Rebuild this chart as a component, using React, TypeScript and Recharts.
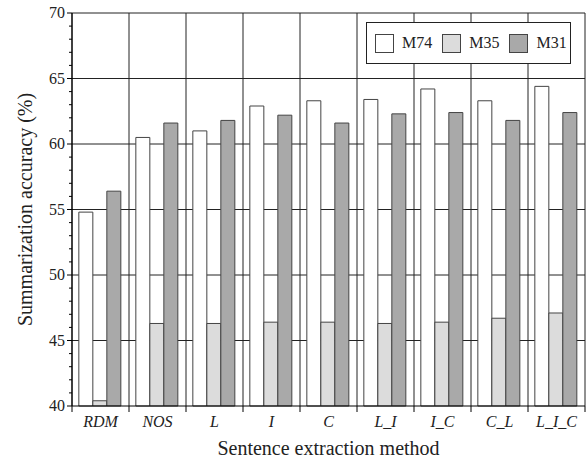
import { BarChart, Bar, XAxis, YAxis, CartesianGrid, Legend } from "recharts";

const categories = ["RDM", "NOS", "L", "I", "C", "L_I", "I_C", "C_L", "L_I_C"];
const m74 = [54.8, 60.5, 61.0, 62.9, 63.3, 63.4, 64.2, 63.3, 64.4];
const m35 = [40.4, 46.3, 46.3, 46.4, 46.4, 46.3, 46.4, 46.7, 47.1];
const m31 = [56.4, 61.6, 61.8, 62.2, 61.6, 62.3, 62.4, 61.8, 62.4];
const majorTicks = [40, 45, 50, 55, 60, 65, 70];
const seriesNames = ["M74", "M35", "M31"];

const COLORS = ["#ffffff", "#dcdcdc", "#a9a9a9"];
const FONT = "Liberation Serif, Tinos, Times New Roman, Times, DejaVu Serif, serif";
const W = 586;
const H = 466;
const MARGIN = { top: 13, right: 1, left: 22, bottom: 30 };
const Y_AXIS_W = 50;
const PLOT_W = W - MARGIN.left - MARGIN.right - Y_AXIS_W;
const BAND = PLOT_W / categories.length;

const yMin = majorTicks[0];
const yMax = majorTicks[majorTicks.length - 1];
const allTicks = Array.from({ length: yMax - yMin + 1 }, (_, i) => yMin + i);

const data = categories.map((name, i) => ({
  name,
  M74: m74[i],
  M35: m35[i],
  M31: m31[i],
}));

function YTick({ x, y, payload }: any) {
  const major = payload.value % 5 === 0;
  return (
    <g>
      <line x1={x - (major ? 5 : 3)} x2={x} y1={y} y2={y} stroke="#000" />
      {major && (
        <text x={x - 7} y={y} dy={5} textAnchor="end" style={{ fontFamily: FONT }} fontSize={16} fill="#222">
          {payload.value}
        </text>
      )}
    </g>
  );
}

function XTick({ x, y, payload, index }: any) {
  return (
    <g>
      <line x1={x - BAND / 2} x2={x - BAND / 2} y1={y} y2={y + 6} stroke="#000" />
      {index === categories.length - 1 && (
        <line x1={x + BAND / 2} x2={x + BAND / 2} y1={y} y2={y + 6} stroke="#000" />
      )}
      <text x={x} y={y} dy={21} textAnchor="middle" style={{ fontFamily: FONT, fontStyle: "italic" }} fontSize={16} fill="#222">
        {payload.value}
      </text>
    </g>
  );
}

function LegendBox() {
  return (
    <div
      style={{
        width: 205,
        height: 42,
        boxSizing: "border-box",
        border: "1px solid #222",
        background: "#fff",
        display: "flex",
        alignItems: "center",
        paddingLeft: 8,
        fontFamily: FONT,
        fontSize: 16,
        color: "#222",
      }}
    >
      {seriesNames.map((s, i) => (
        <div key={s} style={{ display: "flex", alignItems: "center", marginRight: 10 }}>
          <div
            style={{
              width: 19,
              height: 19,
              boxSizing: "border-box",
              border: "1px solid #444",
              background: COLORS[i],
              marginRight: 8,
            }}
          />
          <span>{s}</span>
        </div>
      ))}
    </div>
  );
}

export default function App() {
  return (
    <div style={{ position: "absolute", left: 0, top: 0, background: "#fff", fontFamily: FONT }}>
      <BarChart width={W} height={H} data={data} margin={MARGIN} barCategoryGap="12%" barGap={0} style={{ fontFamily: FONT }}>
        <CartesianGrid
          stroke="#222"
          horizontalCoordinatesGenerator={({ offset }: any) =>
            majorTicks.slice(1).map((v) => offset.top + (offset.height * (yMax - v)) / (yMax - yMin))
          }
          verticalCoordinatesGenerator={({ offset }: any) =>
            categories.map((_, i) => offset.left + ((i + 1) * offset.width) / categories.length)
          }
        />
        <XAxis
          dataKey="name"
          interval={0}
          height={30}
          tickSize={0}
          tickMargin={0}
          tickLine={false}
          axisLine={{ stroke: "#000" }}
          tick={<XTick />}
          label={{
            value: "Sentence extraction method",
            position: "bottom",
            offset: 5,
            fontFamily: FONT,
            fontSize: 20,
            fill: "#222",
          }}
        />
        <YAxis
          type="number"
          domain={[yMin, yMax]}
          ticks={allTicks}
          interval={0}
          width={Y_AXIS_W}
          tickSize={0}
          tickMargin={0}
          tickLine={false}
          axisLine={{ stroke: "#000", strokeWidth: 1.5 }}
          tick={<YTick />}
          label={{
            value: "Summarization accuracy (%)",
            angle: -90,
            position: "insideLeft",
            offset: 3,
            fontFamily: FONT,
            fontSize: 20,
            fill: "#222",
            style: { textAnchor: "middle" },
          }}
        />
        <Legend
          layout="horizontal"
          verticalAlign="middle"
          align="center"
          content={<LegendBox />}
          wrapperStyle={{ top: 22, left: 366, width: 205, height: 42 }}
        />
        {seriesNames.map((s, i) => (
          <Bar key={s} dataKey={s} fill={COLORS[i]} stroke="#444" strokeWidth={1} isAnimationActive={false} />
        ))}
      </BarChart>
    </div>
  );
}
